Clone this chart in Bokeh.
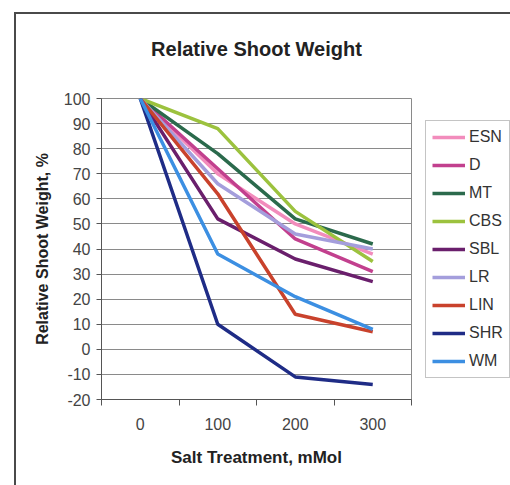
from bokeh.plotting import figure
from bokeh.models import Range1d, FixedTicker, Legend, LegendItem, InlineStyleSheet
from bokeh.embed import file_html
from bokeh.resources import INLINE

# Salt treatment levels (mMol) and relative shoot weight (%) per line
treatments = ["0", "100", "200", "300"]
y_ticks = [-20, -10, 0, 10, 20, 30, 40, 50, 60, 70, 80, 90, 100]

ESN = [100, 70, 50, 38]
D = [100, 72, 44, 31]
MT = [100, 78, 52, 42]
CBS = [100, 88, 55, 35]
SBL = [100, 52, 36, 27]
LR = [100, 66, 46, 40]
LIN = [100, 62, 14, 7]
SHR = [100, 10, -11, -14]
WM = [100, 38, 21, 8]

series = [
    ("ESN", ESN, "#f28cbc"),
    ("D", D, "#c2408e"),
    ("MT", MT, "#2b6a4c"),
    ("CBS", CBS, "#9cc23e"),
    ("SBL", SBL, "#6a1f6c"),
    ("LR", LR, "#a49edc"),
    ("LIN", LIN, "#c9422c"),
    ("SHR", SHR, "#1f2c86"),
    ("WM", WM, "#3c8fe2"),
]

FONT = "Liberation Sans"

p = figure(width=510, height=485, output_backend="svg", toolbar_location=None,
           x_range=Range1d(0, len(treatments)), y_range=Range1d(-20, 100),
           frame_width=310, frame_height=301,
           min_border_left=101, min_border_right=99,
           min_border_top=98, min_border_bottom=86)

# outer chart border, showing its top and left edges
p.stylesheets = [InlineStyleSheet(css="""
:host::after {
  content: "";
  position: absolute;
  left: 14px; top: 12px; width: 520px; height: 500px;
  border: 2px solid #4a4a4a;
  pointer-events: none;
}
""")]

# category positions: centre of each slot
xs = [i + 0.5 for i in range(len(treatments))]

items = []
for name, vals, color in series:
    r = p.line(xs, vals, line_color=color, line_width=3.5)
    items.append(LegendItem(label=name, renderers=[r]))

# title
p.title.text = "Relative Shoot Weight"
p.title.align = "center"
p.title.vertical_align = "top"
p.title.text_font = FONT
p.title.text_font_size = "20px"
p.title.text_font_style = "bold"
p.title.text_color = "#222222"
p.title.standoff = 74

# x axis: labels centred on slots, ticks on slot boundaries
xa = p.xaxis[0]
xa.ticker = FixedTicker(ticks=xs, minor_ticks=list(range(len(treatments) + 1)))
xa.major_label_overrides = {x: t for x, t in zip(xs, treatments)}
xa.major_tick_out = 0
xa.major_tick_in = 0
xa.minor_tick_out = 6
xa.minor_tick_in = 0
xa.minor_tick_line_color = "#555555"
xa.axis_line_color = "#555555"
xa.major_label_standoff = 12
xa.major_label_text_font = FONT
xa.major_label_text_font_size = "16px"
xa.major_label_text_color = "#444444"
xa.axis_label = "Salt Treatment, mMol"
xa.axis_label_text_font = FONT
xa.axis_label_text_font_size = "17px"
xa.axis_label_text_font_style = "bold"
xa.axis_label_text_color = "#222222"
xa.axis_label_standoff = 15

ya = p.yaxis[0]
ya.ticker = FixedTicker(ticks=y_ticks)
ya.major_label_overrides = {t: str(t) for t in y_ticks}
ya.minor_tick_line_color = None
ya.major_tick_out = 5
ya.major_tick_in = 0
ya.major_tick_line_color = "#555555"
ya.axis_line_color = "#555555"
ya.major_label_standoff = 6
ya.major_label_text_font = FONT
ya.major_label_text_font_size = "16px"
ya.major_label_text_color = "#444444"
ya.axis_label = "Relative Shoot Weight, %"
ya.axis_label_text_font = FONT
ya.axis_label_text_font_size = "16px"
ya.axis_label_text_font_style = "bold"
ya.axis_label_text_color = "#222222"
ya.axis_label_standoff = 10

p.xgrid.grid_line_color = None
p.ygrid.ticker = FixedTicker(ticks=y_ticks)
p.ygrid.grid_line_color = "#8a8a8a"
p.ygrid.grid_line_width = 1
p.outline_line_color = "#8a8a8a"
p.outline_line_width = 1

legend = Legend(items=items, location=(14, 21),
                label_text_font=FONT, label_text_font_size="16px",
                label_text_color="#333333",
                glyph_width=33, glyph_height=20, label_height=20,
                label_standoff=4, spacing=8, padding=6, margin=0,
                border_line_color="#8a8a8a", border_line_width=1,
                background_fill_color="white")
p.add_layout(legend, "right")

open("out.html", "w").write(file_html(p, INLINE))
